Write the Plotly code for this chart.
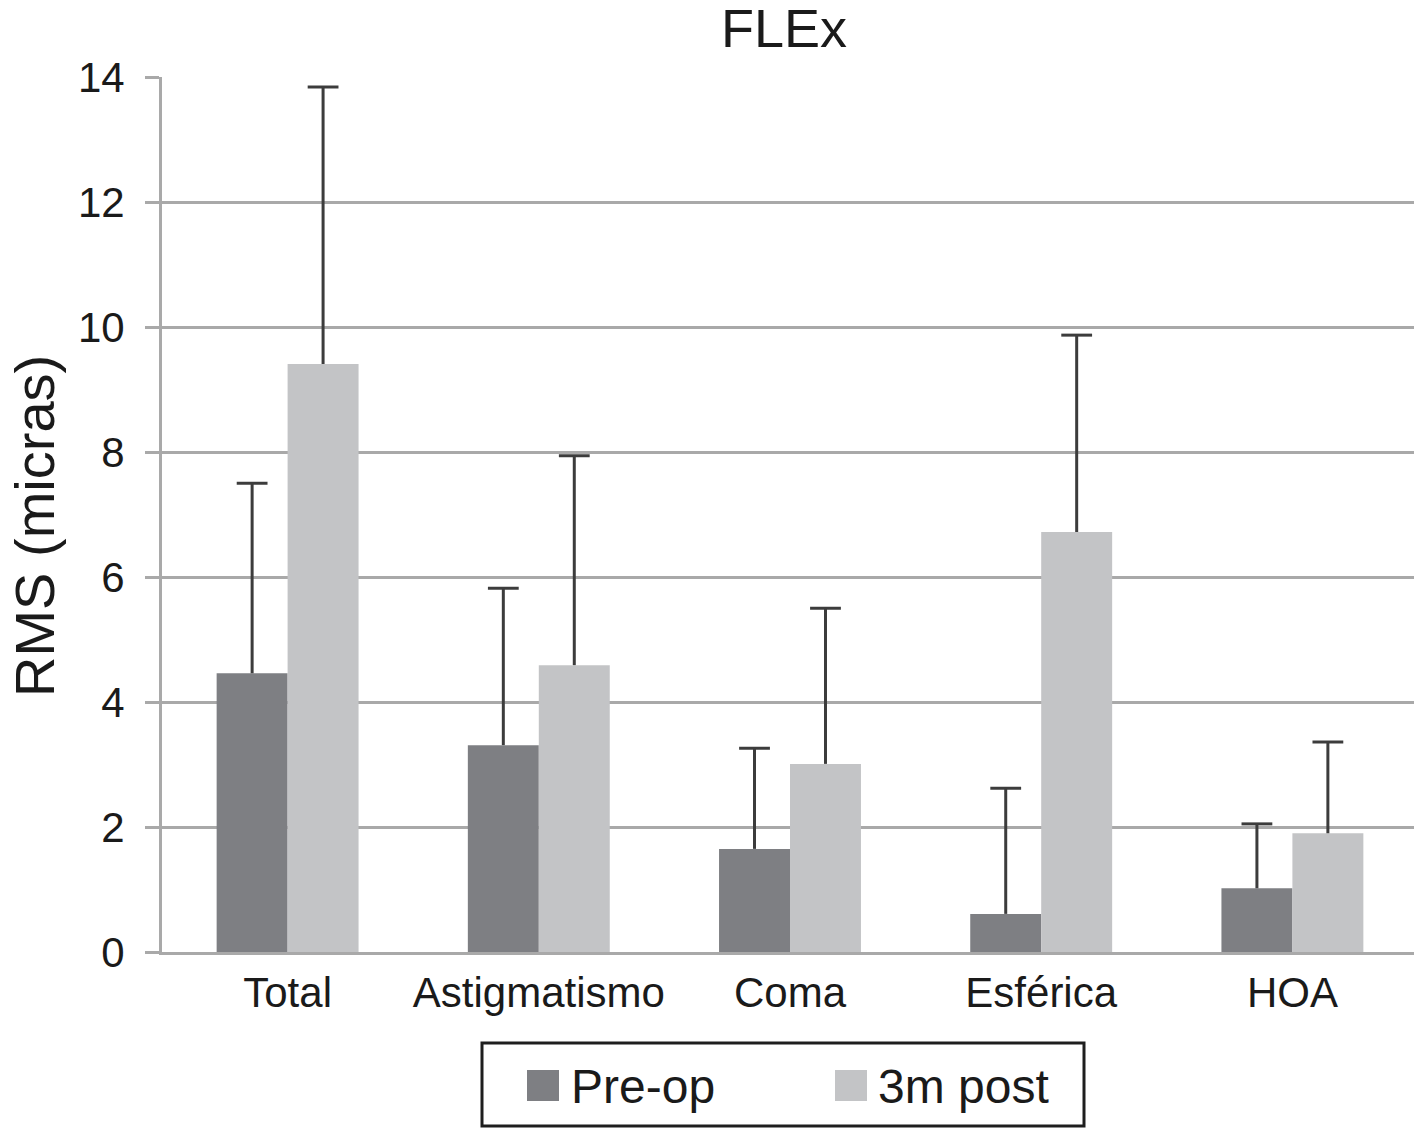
import plotly.graph_objects as go

categories = ["Total", "Astigmatismo", "Coma", "Esférica", "HOA"]
pre_op = [4.46, 3.31, 1.65, 0.61, 1.02]
pre_op_sd = [3.04, 2.51, 1.61, 2.01, 1.03]
post_3m = [9.41, 4.59, 3.01, 6.72, 1.90]
post_3m_sd = [4.43, 3.35, 2.49, 3.15, 1.46]
series_names = ["Pre-op", "3m post"]
y_ticks = [0, 2, 4, 6, 8, 10, 12, 14]
y_title = "RMS (micras)"

PRE_COLOR = "#7e7f83"
POST_COLOR = "#c3c4c6"
ERR_COLOR = "#3c3c3c"
FONT = "Liberation Sans, Arial, Helvetica, sans-serif"
BARGAP = 0.435

fig = go.Figure()
for name, vals, sds, col, grp in [
    (series_names[0], pre_op, pre_op_sd, PRE_COLOR, "a"),
    (series_names[1], post_3m, post_3m_sd, POST_COLOR, "b"),
]:
    fig.add_trace(go.Bar(
        x=categories, y=vals, name=name, marker_color=col, marker_line_width=0,
        offsetgroup=grp, showlegend=False,
        error_y=dict(type="data", array=sds, symmetric=False, arrayminus=[0] * len(sds),
                     color=ERR_COLOR, thickness=3, width=0),
    ))
for name, vals, sds, grp in [
    (series_names[0], pre_op, pre_op_sd, "a"),
    (series_names[1], post_3m, post_3m_sd, "b"),
]:
    fig.add_trace(go.Scatter(
        x=categories, y=[v + s for v, s in zip(vals, sds)], mode="markers",
        offsetgroup=grp, showlegend=False, hoverinfo="skip", name=name + " SD",
        marker=dict(symbol="line-ew", size=22, color=ERR_COLOR,
                    line=dict(color=ERR_COLOR, width=3)),
    ))

# page body has an 8px margin; screen plot area: x 162..1418, y 77..952
OFF = 8
W, H = 1414, 1122
L, T = 162 - OFF, 77 - OFF
R = (W + OFF) - 1418
B = H - T - 875
SX0, SW, SY0, SH = 162, 1256, 952, 875

def px(x):
    return (x - SX0) / SW

def py(y):
    return (SY0 - y) / SH

shapes = [
    dict(type="rect", xref="paper", yref="paper", x0=px(482), x1=px(1084), y0=py(1043), y1=py(1126),
         line=dict(color="#1e1e1e", width=3), fillcolor="white", layer="above"),
    dict(type="rect", xref="paper", yref="paper", x0=px(527), x1=px(559), y0=py(1070), y1=py(1101),
         line=dict(width=0), fillcolor=PRE_COLOR, layer="above"),
    dict(type="rect", xref="paper", yref="paper", x0=px(835), x1=px(867), y0=py(1070), y1=py(1101),
         line=dict(width=0), fillcolor=POST_COLOR, layer="above"),
]
annotations = [
    dict(xref="paper", yref="paper", x=px(569), y=py(1086), text=series_names[0], showarrow=False,
         xanchor="left", yanchor="middle", font=dict(size=48, color="#1a1a1a", family=FONT)),
    dict(xref="paper", yref="paper", x=px(876), y=py(1086), text=series_names[1], showarrow=False,
         xanchor="left", yanchor="middle", font=dict(size=48, color="#1a1a1a", family=FONT)),
    dict(xref="paper", yref="paper", x=px(34), y=py(526), text=y_title, showarrow=False,
         textangle=-90, xanchor="center", yanchor="middle",
         font=dict(size=56, color="#1a1a1a", family=FONT)),
]

fig.update_layout(
    width=W, height=H,
    margin=dict(l=L, r=R, t=T, b=B, pad=0, autoexpand=False),
    paper_bgcolor="white", plot_bgcolor="white",
    font=dict(family=FONT, color="#1a1a1a"),
    barmode="group", bargap=BARGAP, bargroupgap=0,
    scattermode="group", scattergap=BARGAP,
    title=dict(text="FLEx", x=(784 - OFF) / W, xref="container", xanchor="center",
               y=1 - 20 / H, yref="container", yanchor="middle",
               font=dict(size=54, color="#1a1a1a", family=FONT)),
    shapes=shapes, annotations=annotations,
    showlegend=False,
)
fig.update_yaxes(
    range=[0, 14], tickvals=y_ticks, showgrid=True, gridcolor="#a9a9a9", gridwidth=3,
    showline=True, linecolor="#a9a9a9", linewidth=3, zeroline=False, automargin=False,
    ticks="outside", ticklen=14, tickwidth=3, tickcolor="#a9a9a9",
    tickfont=dict(size=42, color="#1a1a1a", family=FONT), ticklabelstandoff=12,
)
fig.update_xaxes(
    showline=True, linecolor="#a9a9a9", linewidth=3, ticks="", showgrid=False, automargin=False,
    tickfont=dict(size=42, color="#1a1a1a", family=FONT), ticklabelstandoff=2,
)

fig.write_html("out.html")
